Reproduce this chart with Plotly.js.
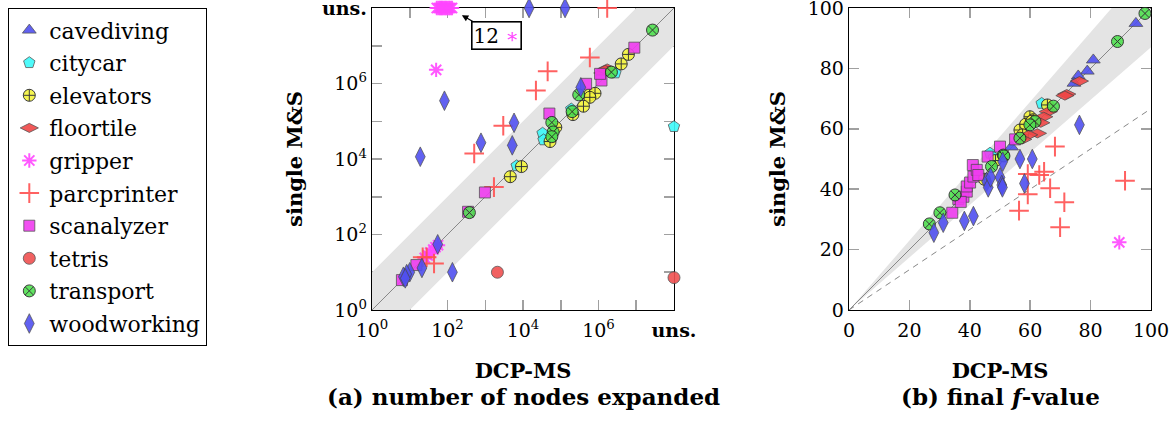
<!DOCTYPE html>
<html><head><meta charset="utf-8">
<script src="https://cdn.plot.ly/plotly-3.0.1.min.js"></script>
<style>html,body{margin:0;padding:0;background:#fff}#chart{width:1172px;height:422px}</style>
</head><body><div id="chart"></div>
<script>
// ---------- categories ----------
const domains = ['cavediving','citycar','elevators','floortile','gripper','parcprinter','scanalyzer','tetris','transport','woodworking'];
const UNS = 1e8; // "uns." (unsolved) plotted at the top of the log range

// ---------- (a) number of nodes expanded: DCP-MS (x) vs single M&S (y) ----------
const cavedivingNodesX = [];
const cavedivingNodesY = [];
const citycarNodesX = [1.9e5, 3.3e4, 3.5e4, 6.8e3, 2.8e6, UNS];
const citycarNodesY = [2.1e5, 4.8e4, 3.2e4, 6.6e3, 1.9e6, 7.2e4];
const elevatorsNodesX = [6.2e6, 4.0e6, 5.8e5, 8.1e5, 5.9e5, 4.0e5, 2.1e5, 7.4e4, 5.2e4, 9.1e3, 4.6e3];
const elevatorsNodesY = [5.9e6, 3.3e6, 5.0e5, 5.5e5, 4.3e5, 2.5e5, 1.5e5, 6.9e4, 2.9e4, 6.3e3, 3.4e3];
const floortileNodesX = [1.7e6, 1.3e6, 1.5e6];
const floortileNodesY = [2.5e6, 1.9e6, 2.3e6];
const gripperNodesX = [52, 58, 63, 68, 72, 78, 85, 92, 100, 110, 120, 132, 50, 25, 30, 35, 42, 48, 56];
const gripperNodesY = [UNS, UNS, UNS, UNS, UNS, UNS, UNS, UNS, UNS, UNS, UNS, UNS, 2.3e6, 24, 28, 33, 40, 46, 52];
const parcprinterNodesX = [1.7e6, 5.9e5, 4.5e4, 2.2e4, 3.0e3, 5.1e2, 1.7e3, 22, 44, 28];
const parcprinterNodesY = [UNS, 4.9e6, 2.1e6, 6.5e5, 7.6e4, 1.4e4, 1.8e3, 25, 17, 25];
const scanalyzerNodesX = [8.9e6, 1.2e6, 4.7e5, 5.0e4, 9.8e2, 3.5e2, 15, 6.2, 1.1e6];
const scanalyzerNodesY = [8.9e6, 1.2e6, 9.8e5, 1.6e5, 1.3e3, 4.0e2, 15.5, 6.2, 1.8e6];
const tetrisNodesX = [2.1e3, UNS];
const tetrisNodesY = [10, 7.2];
const transportNodesX = [2.7e7, 2.2e6, 3.0e5, 5.8e4, 6.3e4, 5.8e4, 3.8e2, 2.0e5];
const transportNodesY = [2.6e7, 2.0e6, 5.0e5, 9.3e4, 5.2e4, 3.9e4, 3.8e2, 1.8e5];
const woodworkingNodesX = [1.45e4, 1.3e5, 83, 5.8e3, 7.7e2, 5.2e3, 19, 3.4e5, 55, 21, 10, 8.3, 6.8, 135, 7.6];
const woodworkingNodesY = [UNS, UNS, 3.5e5, 9.1e4, 2.7e4, 2.3e4, 1.15e4, 7.9e5, 55, 13, 10, 8.9, 7.6, 10, 6.9];

// ---------- (b) final f-value: DCP-MS (x) vs single M&S (y) ----------
const cavedivingFX = [95.0, 80.9, 78.9, 75.9, 74.5, 53.8];
const cavedivingFY = [94.9, 82.8, 79.1, 77.5, 75.1, 54.0];
const citycarFX = [63.8, 46.7, 48.0, 58.5];
const citycarFY = [68.4, 51.9, 50.5, 60.5];
const elevatorsFX = [65.7, 59.9, 56.6, 44.8, 58.5, 61.0, 48.5, 57.5, 60.5];
const elevatorsFY = [67.9, 64.0, 59.6, 43.3, 61.5, 63.0, 49.5, 58.0, 62.5];
const floortileFX = [76.3, 72.1, 66.0, 62.4, 64.5, 59.5, 57.5, 63.5, 71.5];
const floortileFY = [75.8, 71.5, 65.7, 58.5, 64.0, 58.0, 56.5, 62.0, 71.0];
const gripperFX = [89.5];
const gripperFY = [22.4];
const parcprinterFX = [68.2, 59.2, 63.0, 64.6, 66.6, 59.2, 56.3, 71.3, 69.9, 91.4];
const parcprinterFY = [54.1, 45.0, 44.7, 45.8, 40.3, 38.3, 32.9, 35.7, 27.4, 42.8];
const scanalyzerFX = [34.2, 36.2, 37.9, 39.0, 39.0, 40.1, 41.2, 41.0, 42.3, 42.8, 50.0, 45.9, 55.0, 37.0];
const scanalyzerFY = [32.2, 36.7, 37.5, 39.2, 40.9, 42.2, 44.2, 48.0, 46.4, 44.7, 54.1, 50.8, 56.5, 35.8];
const tetrisFX = [];
const tetrisFY = [];
const transportFX = [98.0, 88.9, 67.7, 61.6, 59.9, 56.6, 51.1, 26.6, 30.1, 35.1, 47.2, 51.3];
const transportFY = [98.2, 88.9, 67.5, 62.4, 61.3, 56.9, 51.3, 28.5, 32.2, 38.1, 47.5, 51.0];
const woodworkingFX = [76.3, 56.6, 60.7, 28.1, 31.2, 38.2, 41.2, 45.6, 46.1, 46.9, 50.0, 50.6, 50.8, 50.9, 58.1];
const woodworkingFY = [61.3, 50.0, 50.0, 25.6, 28.9, 29.5, 31.1, 42.5, 40.6, 43.9, 43.9, 41.4, 40.6, 49.1, 41.9];

// ---------- tick labels ----------
const nodeTickVals = [1, 1e2, 1e4, 1e6, 1e8];
const nodeTickText = ['10<sup>0</sup>', '10<sup>2</sup>', '10<sup>4</sup>', '10<sup>6</sup>', '<b>uns.</b>'];
const nodeMinorTickVals = [1e1, 1e3, 1e5, 1e7];
const fTickVals = [0, 20, 40, 60, 80, 100];

// ---------- styles ----------
const OUT = 'rgb(70,70,70)';
const styles = {
  cavediving:  {symbol: 'triangle-up',  color: 'rgb(80,80,240)',  line: {color: OUT, width: 0.8}, size: 12},
  citycar:     {symbol: 'pentagon',     color: 'rgb(60,250,250)', line: {color: OUT, width: 0.8}, size: 12},
  elevators:   {symbol: 'circle-cross', color: 'rgb(245,245,60)', line: {color: 'rgb(40,40,40)', width: 1}, size: 12},
  floortile:   {symbol: 'diamond-wide', color: 'rgb(240,70,70)',  line: {color: OUT, width: 0.8}, size: 13},
  gripper:     {symbol: 'asterisk-open',color: 'rgb(255,70,255)', line: {color: 'rgb(255,70,255)', width: 2}, size: 12},
  parcprinter: {symbol: 'cross-thin-open', color: 'rgb(255,80,80)', line: {color: 'rgb(255,80,80)', width: 2}, size: 14},
  scanalyzer:  {symbol: 'square',       color: 'rgb(240,60,240)', line: {color: OUT, width: 0.8}, size: 11},
  tetris:      {symbol: 'circle',       color: 'rgb(240,80,80)',  line: {color: OUT, width: 0.8}, size: 12},
  transport:   {symbol: 'circle-x',     color: 'rgb(80,225,80)',  line: {color: 'rgb(40,40,40)', width: 1}, size: 12},
  woodworking: {symbol: 'diamond-tall', color: 'rgb(80,80,240)',  line: {color: OUT, width: 0.8}, size: 14}
};

const nodeData = {
  cavediving: [cavedivingNodesX, cavedivingNodesY], citycar: [citycarNodesX, citycarNodesY],
  elevators: [elevatorsNodesX, elevatorsNodesY], floortile: [floortileNodesX, floortileNodesY],
  gripper: [gripperNodesX, gripperNodesY], parcprinter: [parcprinterNodesX, parcprinterNodesY],
  scanalyzer: [scanalyzerNodesX, scanalyzerNodesY], tetris: [tetrisNodesX, tetrisNodesY],
  transport: [transportNodesX, transportNodesY], woodworking: [woodworkingNodesX, woodworkingNodesY]
};
const fData = {
  cavediving: [cavedivingFX, cavedivingFY], citycar: [citycarFX, citycarFY],
  elevators: [elevatorsFX, elevatorsFY], floortile: [floortileFX, floortileFY],
  gripper: [gripperFX, gripperFY], parcprinter: [parcprinterFX, parcprinterFY],
  scanalyzer: [scanalyzerFX, scanalyzerFY], tetris: [tetrisFX, tetrisFY],
  transport: [transportFX, transportFY], woodworking: [woodworkingFX, woodworkingFY]
};

const GREYFILL = 'rgb(228,228,228)';
const LINEGREY = 'rgb(135,135,135)';
const traces = [];

// reference band (factor 10) and diagonal for (a)
const bandFactorA = 10;
traces.push({x: [1, 1, UNS / bandFactorA, UNS, UNS, bandFactorA, 1], y: [1, bandFactorA, UNS, UNS, UNS / bandFactorA, 1, 1],
  xaxis: 'x', yaxis: 'y', mode: 'lines', fill: 'toself', fillcolor: GREYFILL, line: {width: 0}, hoverinfo: 'skip', showlegend: false});
traces.push({x: [1, UNS], y: [1, UNS], xaxis: 'x', yaxis: 'y', mode: 'lines', line: {color: LINEGREY, width: 1}, hoverinfo: 'skip', showlegend: false});

// reference band (ratio 0.87), diagonal and 2/3 line for (b)
const bandRatioB = 0.87;
traces.push({x: [0, 100 * bandRatioB, 100, 100, 0], y: [0, 100, 100, 100 * bandRatioB, 0],
  xaxis: 'x2', yaxis: 'y2', mode: 'lines', fill: 'toself', fillcolor: GREYFILL, line: {width: 0}, hoverinfo: 'skip', showlegend: false});
traces.push({x: [0, 100], y: [0, 100], xaxis: 'x2', yaxis: 'y2', mode: 'lines', line: {color: LINEGREY, width: 1}, hoverinfo: 'skip', showlegend: false});
traces.push({x: [0, 100], y: [0, 200 / 3], xaxis: 'x2', yaxis: 'y2', mode: 'lines', line: {color: LINEGREY, width: 1, dash: '6px,5px'}, hoverinfo: 'skip', showlegend: false});

domains.forEach(d => {
  const s = styles[d];
  const mk = {symbol: s.symbol, color: s.color, size: s.size, line: s.line, opacity: 0.9};
  const nd = nodeData[d], fd = fData[d];
  const legendOnNodes = nd[0].length > 0;
  traces.push({x: nd[0], y: nd[1], name: d, legendgroup: d, showlegend: legendOnNodes, xaxis: 'x', yaxis: 'y',
    type: 'scatter', mode: 'markers', marker: mk, cliponaxis: false});
  traces.push({x: fd[0], y: fd[1], name: d, legendgroup: d, showlegend: !legendOnNodes, xaxis: 'x2', yaxis: 'y2',
    type: 'scatter', mode: 'markers', marker: mk, cliponaxis: false});
});

const FONT = "'DejaVu Serif', 'Liberation Serif', serif";
const W = 1172, H = 422;
const yDom = [1 - 310 / H, 1 - 8 / H];
const TICKGREY = 'rgb(160,160,160)';
const axCommon = {ticks: 'inside', ticklen: 10, tickwidth: 1.5, tickcolor: TICKGREY, showline: true, linecolor: 'black',
  linewidth: 1.3, mirror: 'ticks', showgrid: false, zeroline: false, automargin: false, layer: 'below traces',
  ticklabeloverflow: 'allow', tickfont: {family: FONT, size: 19, color: 'black'}};
const logMinor = {tickvals: nodeMinorTickVals, ticks: 'inside', ticklen: 10, tickwidth: 1.5, tickcolor: TICKGREY, showgrid: false};
const LOGRANGE = [-0.0002, 8.0002];
const TITLEFONT = {family: FONT, size: 21, color: 'black'};

const layout = {
  width: W, height: H, margin: {l: 0, r: 0, t: 0, b: 0}, paper_bgcolor: 'white', plot_bgcolor: 'white',
  font: {family: FONT, color: 'black'},
  showlegend: true,
  legend: {x: 8 / W, y: 1 - 8 / H, xanchor: 'left', yanchor: 'top', bordercolor: 'black', borderwidth: 1.3, bgcolor: 'white',
    font: {family: FONT, size: 22, color: 'black'}, traceorder: 'grouped', tracegroupgap: 1, itemsizing: 'trace'},
  xaxis: Object.assign({}, axCommon, {domain: [372 / W, 674 / W], type: 'log', range: LOGRANGE, tickvals: nodeTickVals, ticktext: nodeTickText,
    minor: logMinor, anchor: 'y', ticklabelstandoff: 3, title: {text: '<b>DCP-MS</b>', font: TITLEFONT, standoff: 23}}),
  yaxis: Object.assign({}, axCommon, {domain: yDom, type: 'log', range: LOGRANGE, tickvals: nodeTickVals, ticktext: nodeTickText,
    minor: logMinor, anchor: 'x', title: {text: '<b>single M&amp;S</b>', font: TITLEFONT, standoff: 13}}),
  xaxis2: Object.assign({}, axCommon, {domain: [849 / W, 1151 / W], range: [0, 100], tickvals: fTickVals,
    anchor: 'y2', ticklabelstandoff: 3, title: {text: '<b>DCP-MS</b>', font: TITLEFONT, standoff: 23}}),
  yaxis2: Object.assign({}, axCommon, {domain: yDom, range: [0, 100], tickvals: fTickVals,
    anchor: 'x2', title: {text: '<b>single M&amp;S</b>', font: TITLEFONT, standoff: 16}}),
  annotations: [
    {xref: 'x', yref: 'y', x: 2.38, y: 7.81, text: '12 <span style="color:rgb(255,70,255)">∗</span>', showarrow: true,
      ax: 35, ay: 20, arrowhead: 2, arrowsize: 1, arrowwidth: 1.3, arrowcolor: 'black', bordercolor: 'black', borderwidth: 1.6,
      borderpad: 1, bgcolor: 'white', font: {family: FONT, size: 20, color: 'black'}},
    {xref: 'paper', yref: 'paper', x: 523 / W, y: 1 - 396 / H, xanchor: 'center', yanchor: 'middle', showarrow: false,
      text: '<b>(a) number of nodes expanded</b>', font: {family: FONT, size: 23, color: 'black'}},
    {xref: 'paper', yref: 'paper', x: 1000 / W, y: 1 - 396 / H, xanchor: 'center', yanchor: 'middle', showarrow: false,
      text: '<b>(b) final <i>f</i>-value</b>', font: {family: FONT, size: 23, color: 'black'}}
  ]
};

Plotly.newPlot('chart', traces, layout, {displayModeBar: false, staticPlot: true});
</script></body></html>
